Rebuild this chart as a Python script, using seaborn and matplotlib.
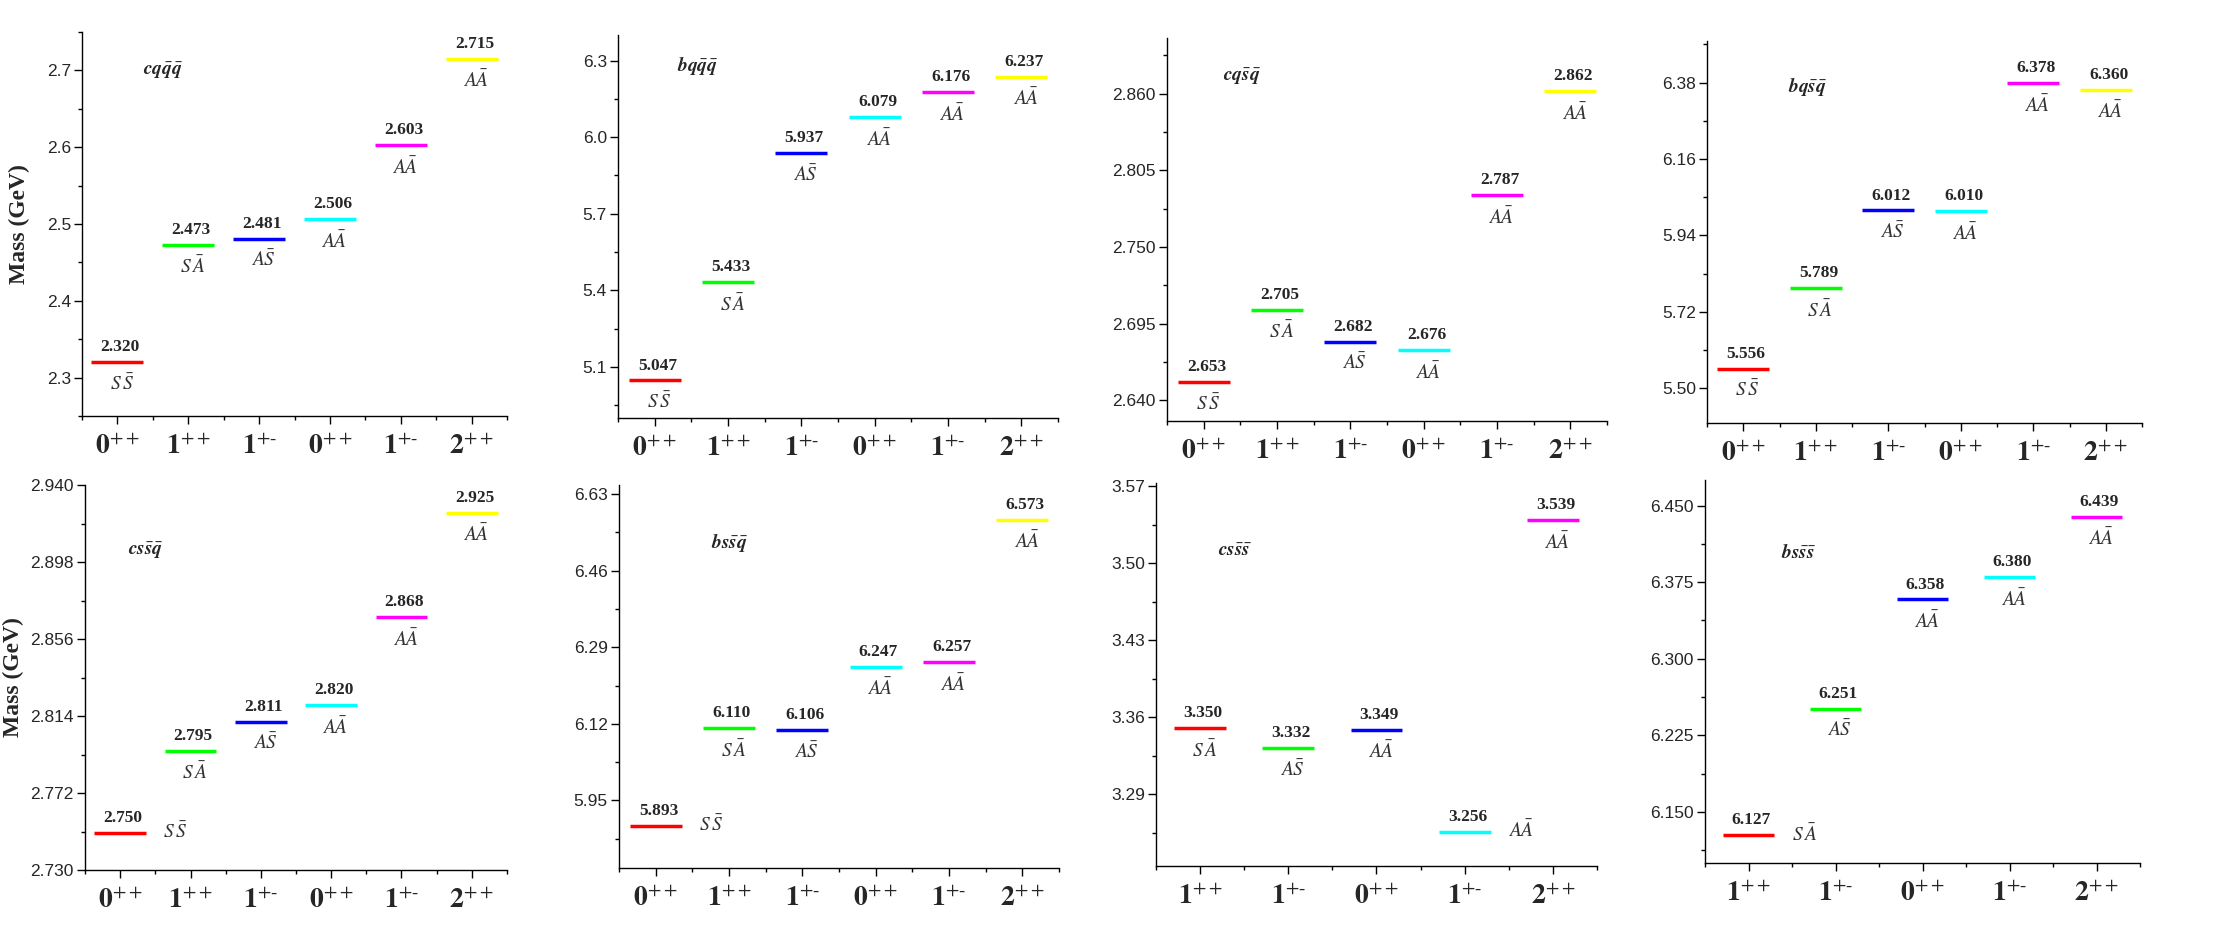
import numpy as np
import pandas as pd
import matplotlib
matplotlib.use("Agg")
import matplotlib.pyplot as plt
import seaborn as sns

# datos: estados de cada tetraquark
jpc_6 = ["0++", "1++", "1+-", "0++", "1+-", "2++"]
jpc_5 = ["1++", "1+-", "0++", "1+-", "2++"]

cfg_6 = ["SS", "SA", "AS", "AA", "AA", "AA"]
cfg_5 = ["SA", "AS", "AA", "AA", "AA"]

masa_cqqq = [2.320, 2.473, 2.481, 2.506, 2.603, 2.715]
masa_bqqq = [5.047, 5.433, 5.937, 6.079, 6.176, 6.237]
masa_cqsq = [2.653, 2.705, 2.682, 2.676, 2.787, 2.862]
masa_bqsq = [5.556, 5.789, 6.012, 6.010, 6.378, 6.360]
masa_cssq = [2.750, 2.795, 2.811, 2.820, 2.868, 2.925]
masa_bssq = [5.893, 6.110, 6.106, 6.247, 6.257, 6.573]
masa_csss = [3.350, 3.332, 3.349, 3.256, 3.539]
masa_bsss = [6.127, 6.251, 6.358, 6.380, 6.439]

# quarks y antiquarks de cada panel
quarks = ["cq", "bq", "cq", "bq", "cs", "bs", "cs", "bs"]
antiquarks = ["qq", "qq", "sq", "sq", "sq", "sq", "ss", "ss"]
masas = [masa_cqqq, masa_bqqq, masa_cqsq, masa_bqsq, masa_cssq, masa_bssq, masa_csss, masa_bsss]
jpcs = [jpc_6] * 6 + [jpc_5] * 2
cfgs = [cfg_6] * 6 + [cfg_5] * 2

colores = ["#ff0000", "#00ff00", "#0000ff", "#00ffff", "#ff00ff", "#ffff00"]

# layout (pixeles: izq, arriba, der, abajo), ejes y, posicion del titulo
cajas = [(82, 32, 507, 416), (618, 35, 1058, 418), (1167, 38, 1607, 421), (1707, 41, 2142, 423),
         (85, 485, 507, 870), (619, 485, 1059, 868), (1156, 483, 1597, 866), (1705, 480, 2140, 863)]
ylims = [(2.25, 2.75), (4.9, 6.4), (2.625, 2.9), (5.4, 6.5),
         (2.73, 2.94), (5.8, 6.65), (3.225, 3.573), (6.1, 6.475)]
ticks0 = [2.3, 5.1, 2.640, 5.50, 2.730, 5.95, 3.29, 6.150]
pasos = [0.1, 0.3, 0.055, 0.22, 0.042, 0.17, 0.07, 0.075]
decs = [1, 1, 3, 2, 3, 2, 2, 3]
pos_titulo = [(0.19, 0.90), (0.18, 0.92), (0.17, 0.90), (0.23, 0.88),
              (0.145, 0.83), (0.25, 0.85), (0.18, 0.82), (0.215, 0.81)]
laterales = {4: [0], 5: [0], 6: [3], 7: [0]}

sns.set_style("ticks")
plt.rcParams["font.family"] = ["Liberation Sans", "DejaVu Sans"]
plt.rcParams["mathtext.fontset"] = "stix"

W, H = 2226, 946
fig = plt.figure(figsize=(W / 100, H / 100), dpi=100)

nombres_cfg = {"SS": r"$S\,\bar{S}$", "SA": r"$S\,\bar{A}$", "AS": r"$A\bar{S}$", "AA": r"$A\bar{A}$"}


def etiqueta_jpc(j):
    sup = "++" if j[1:] == "++" else r"+\text{-}"
    return r"$\mathbf{" + j[0] + "}^{" + sup + "}$"


def titulo(q, aq):
    barras = "".join(r"\bar{\mathbfit{" + c + "}}" for c in aq)
    return r"$\mathbfit{" + q + "}" + barras + "$"


for k in range(8):
    l, t, r, b = cajas[k]
    ax = fig.add_axes([l / W, 1 - b / H, (r - l) / W, (b - t) / H])
    n = len(masas[k])
    pos = np.arange(1, n + 1)
    df = pd.DataFrame({"pos": pos, "masa": masas[k], "nivel": [f"n{i}" for i in range(n)]})
    sns.scatterplot(data=df, x="pos", y="masa", hue="nivel", palette=colores[:n],
                    marker="_", s=1400, linewidth=2.5, legend=False, ax=ax)

    for i in range(n):
        m = masas[k][i]
        ax.annotate(f"{m:.3f}", (pos[i], m), xytext=(2, 5), textcoords="offset points",
                    ha="center", va="bottom", fontsize=12.5, fontweight="bold",
                    family="Liberation Serif")
        if i in laterales.get(k, []):
            ax.annotate(nombres_cfg[cfgs[k][i]], (pos[i], m), xytext=(31, 1),
                        textcoords="offset points", ha="left", va="center",
                        fontsize=14, color="#333333")
        else:
            ax.annotate(nombres_cfg[cfgs[k][i]], (pos[i], m), xytext=(3, -8),
                        textcoords="offset points", ha="center", va="top",
                        fontsize=14, color="#333333")

    ax.text(*pos_titulo[k], titulo(quarks[k], antiquarks[k]), transform=ax.transAxes,
            ha="center", va="center", fontsize=14)

    ax.set_xlim(0.5, n + 0.5)
    ax.set_xticks(pos)
    ax.set_xticks(np.arange(0.5, n + 1, 1.0), minor=True)
    ax.set_xticklabels([etiqueta_jpc(j) for j in jpcs[k]], fontsize=20)

    y0, y1 = ylims[k]
    ax.set_ylim(y0, y1)
    mayores = np.arange(ticks0[k], y1 + 1e-9, pasos[k])
    menores = np.arange(ticks0[k] - pasos[k] / 2, y1 + 1e-9, pasos[k] / 2)
    menores = menores[menores >= y0 - 1e-9]
    ax.set_yticks(mayores)
    ax.set_yticks(menores, minor=True)
    ax.set_yticklabels([f"{v:.{decs[k]}f}" for v in mayores], fontsize=12.5)

    ax.tick_params(axis="both", which="major", length=6, width=1, color="black", direction="out")
    ax.tick_params(axis="both", which="minor", length=3, width=1, color="black", direction="out")
    ax.tick_params(axis="x", which="major", pad=7)
    ax.tick_params(axis="y", which="major", pad=2)
    sns.despine(ax=ax)
    for s in ["left", "bottom"]:
        ax.spines[s].set_linewidth(1.0)
        ax.spines[s].set_color("black")

    ax.set_xlabel("")
    if k in (0, 4):
        ax.set_ylabel("Mass (GeV)", fontsize=17, fontweight="bold", family="Liberation Serif")
        ax.yaxis.set_label_coords((30 - l - (6 if k == 4 else 0)) / (r - l), 0.5)
    else:
        ax.set_ylabel("")

fig.savefig("out.png", dpi=100, facecolor="white")
